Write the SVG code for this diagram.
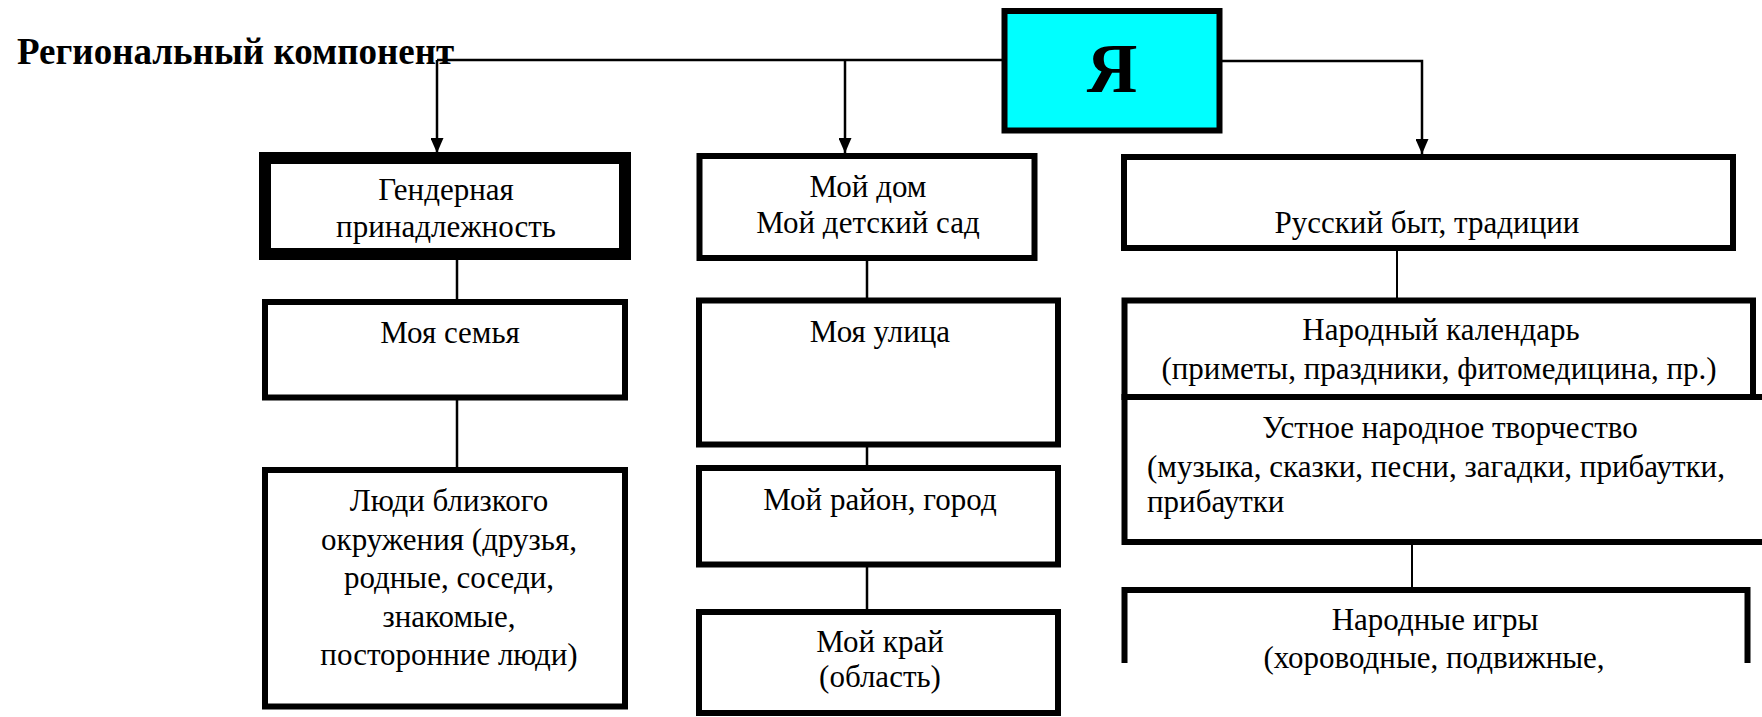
<svg xmlns="http://www.w3.org/2000/svg" width="1762" height="717" viewBox="0 0 1762 717">
<style>
text{font-family:'Liberation Serif','Times New Roman',serif;font-size:31px;fill:#000}
.m{text-anchor:middle}
.b{fill:#fff;stroke:#000;stroke-width:6}
.c{fill:none;stroke:#000;stroke-width:2.5}
</style>
<defs>
<marker id="ar" markerUnits="userSpaceOnUse" markerWidth="15" markerHeight="13" refX="15" refY="6.5" orient="auto">
<path d="M0,0 L15,6.5 L0,13 z" fill="#000"/>
</marker>
</defs>
<rect width="1762" height="717" fill="#fff"/>
<text x="17" y="64" font-weight="bold" style="font-size:37px">Региональный компонент</text>
<g id="connectors">
<path class="c" d="M437,60 H1013"/>
<path class="c" d="M437,60 V153" marker-end="url(#ar)"/>
<path class="c" d="M845,60 V153" marker-end="url(#ar)"/>
<path class="c" d="M1205,61 H1422 V154" marker-end="url(#ar)"/>
<path class="c" d="M457,260 V299 M457,400 V467"/>
<path class="c" d="M867,259 V298 M867,447 V465 M867,567 V609 M869,658 V665"/>
<path class="c" style="stroke-width:2" d="M1397,251 V298 M1412,349 V397 M1412,545 V587"/>
</g>
<g id="node-ya">
<rect x="1004.5" y="11" width="215" height="119.5" fill="#00ffff" stroke="#000" stroke-width="6"/>
<text class="m" x="1112" y="92" font-weight="bold" style="font-size:70px">Я</text>
</g>
<g id="node-gender">
<rect class="b" x="265" y="158" width="360" height="96" style="stroke-width:12"/>
<text class="m" x="446" y="200">Гендерная</text>
<text class="m" x="446" y="237">принадлежность</text>
</g>
<g id="node-family">
<rect class="b" x="265" y="302" width="360" height="95.5"/>
<text class="m" x="450" y="343">Моя семья</text>
</g>
<g id="node-people">
<rect class="b" x="265" y="470" width="360" height="236.5"/>
<text class="m" x="449" y="511">Люди близкого</text>
<text class="m" x="449" y="550">окружения (друзья,</text>
<text class="m" x="449" y="588">родные, соседи,</text>
<text class="m" x="449" y="627">знакомые,</text>
<text class="m" x="449" y="665">посторонние люди)</text>
</g>
<g id="node-home">
<rect class="b" x="699.5" y="156" width="335" height="102"/>
<text class="m" x="868" y="197">Мой дом</text>
<text class="m" x="868" y="233">Мой детский сад</text>
</g>
<g id="node-street">
<rect class="b" x="699" y="300.5" width="359" height="144"/>
<text class="m" x="880" y="342">Моя улица</text>
</g>
<g id="node-district">
<rect class="b" x="699" y="468" width="359" height="96.5"/>
<text class="m" x="880" y="510">Мой район, город</text>
</g>
<g id="node-region">
<rect class="b" x="699" y="612" width="359" height="101"/>
<text class="m" x="880" y="652">Мой край</text>
<text class="m" x="880" y="687">(область)</text>
</g>
<g id="node-byt">
<rect class="b" x="1124" y="157" width="609" height="91"/>
<text class="m" x="1427" y="233">Русский быт, традиции</text>
</g>
<g id="node-calendar">
<rect class="b" x="1124.5" y="300.5" width="628.5" height="96.5"/>
<text class="m" x="1441" y="340">Народный календарь</text>
<text class="m" x="1439" y="379">(приметы, праздники, фитомедицина, пр.)</text>
</g>
<g id="node-oral">
<rect class="b" x="1124.5" y="397" width="700" height="145"/>
<text class="m" x="1450" y="438">Устное народное творчество</text>
<text x="1147" y="477">(музыка, сказки, песни, загадки, прибаутки,</text>
<text x="1147" y="512">прибаутки</text>
</g>
<g id="node-games">
<path d="M1124.5,663 V590 H1747.5 V663" fill="none" stroke="#000" stroke-width="6"/>
<text class="m" x="1435" y="630">Народные игры</text>
<text class="m" x="1434" y="668">(хороводные, подвижные,</text>
</g>
</svg>
